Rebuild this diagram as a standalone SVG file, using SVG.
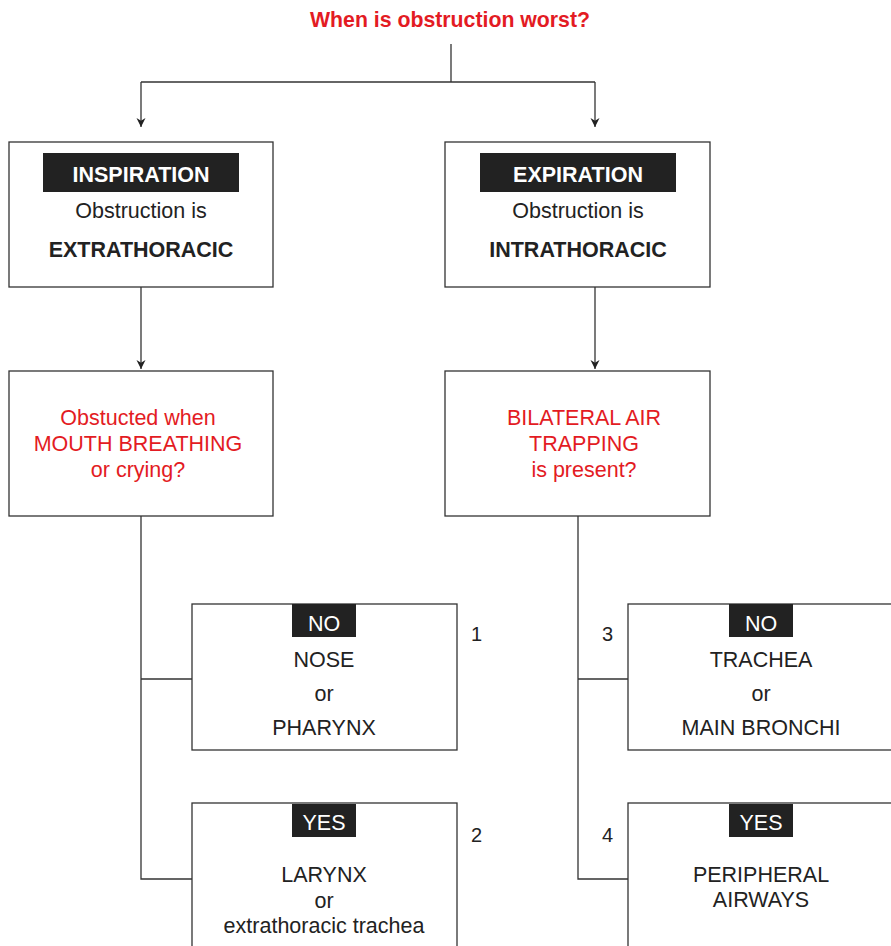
<svg xmlns="http://www.w3.org/2000/svg" width="891" height="946" viewBox="0 0 891 946">
<defs>
<marker id="arr" viewBox="0 0 10 20" refX="10" refY="10" markerWidth="10" markerHeight="18" markerUnits="userSpaceOnUse" orient="auto">
<path d="M0,5 L10,10 L0,15 L3,10 Z" fill="#222"/>
</marker>
<style>
.box{fill:#fff;stroke:#333;stroke-width:1.3}
.lbl{fill:#222}
.ln{fill:none;stroke:#333;stroke-width:1.3}
.t{font-family:"Liberation Sans",Arial,sans-serif;font-size:21.5px;fill:#222;text-anchor:middle}
.b{font-weight:bold}
.w{fill:#fff}
.r{fill:#e31b23}
.n{font-family:"Liberation Sans",Arial,sans-serif;font-size:20px;fill:#222}
</style>
</defs>
<text x="450" y="27" class="t b r" font-size="21" textLength="280" lengthAdjust="spacingAndGlyphs">When is obstruction worst?</text>
<g id="connectors">
<path class="ln" d="M451,44 V82"/>
<path class="ln" d="M141,82 H595"/>
<path class="ln" d="M141,82 V127" marker-end="url(#arr)"/>
<path class="ln" d="M595,82 V127" marker-end="url(#arr)"/>
<path class="ln" d="M141,287 V369" marker-end="url(#arr)"/>
<path class="ln" d="M595,287 V369" marker-end="url(#arr)"/>
<path class="ln" d="M141,516 V879 H192 M141,679 H192"/>
<path class="ln" d="M578,516 V879 H628 M578,679 H628"/>
</g>
<g id="inspiration">
<rect class="box" x="9" y="142" width="264" height="145"/>
<rect class="lbl" x="43" y="153" width="196" height="39"/>
<text x="141" y="182" class="t b w">INSPIRATION</text>
<text x="141" y="218" class="t">Obstruction is</text>
<text x="141" y="257" class="t b">EXTRATHORACIC</text>
</g>
<g id="expiration">
<rect class="box" x="445" y="142" width="265" height="145"/>
<rect class="lbl" x="480" y="153" width="196" height="39"/>
<text x="578" y="182" class="t b w">EXPIRATION</text>
<text x="578" y="218" class="t">Obstruction is</text>
<text x="578" y="257" class="t b">INTRATHORACIC</text>
</g>
<g id="mouth">
<rect class="box" x="9" y="371" width="264" height="145"/>
<text x="138" y="425" class="t r">Obstucted when</text>
<text x="138" y="451" class="t r">MOUTH BREATHING</text>
<text x="138" y="477" class="t r">or crying?</text>
</g>
<g id="trapping">
<rect class="box" x="445" y="371" width="265" height="145"/>
<text x="584" y="425" class="t r">BILATERAL AIR</text>
<text x="584" y="451" class="t r">TRAPPING</text>
<text x="584" y="477" class="t r">is present?</text>
</g>
<g id="nose">
<rect class="box" x="192" y="604" width="265" height="146"/>
<rect class="lbl" x="292" y="604" width="64" height="33"/>
<text x="324" y="631" class="t w">NO</text>
<text x="324" y="667" class="t">NOSE</text>
<text x="324" y="701" class="t">or</text>
<text x="324" y="735" class="t">PHARYNX</text>
<text x="471" y="641" class="n">1</text>
</g>
<g id="larynx">
<rect class="box" x="192" y="803" width="265" height="160"/>
<rect class="lbl" x="292" y="804" width="64" height="33"/>
<text x="324" y="830" class="t w">YES</text>
<text x="324" y="882" class="t">LARYNX</text>
<text x="324" y="908" class="t">or</text>
<text x="324" y="933" class="t">extrathoracic trachea</text>
<text x="471" y="842" class="n">2</text>
</g>
<g id="trachea">
<rect class="box" x="628" y="604" width="266" height="146"/>
<rect class="lbl" x="729" y="604" width="64" height="33"/>
<text x="761" y="631" class="t w">NO</text>
<text x="761" y="667" class="t">TRACHEA</text>
<text x="761" y="701" class="t">or</text>
<text x="761" y="735" class="t">MAIN BRONCHI</text>
<text x="602" y="641" class="n">3</text>
</g>
<g id="peripheral">
<rect class="box" x="628" y="803" width="266" height="160"/>
<rect class="lbl" x="729" y="804" width="64" height="33"/>
<text x="761" y="830" class="t w">YES</text>
<text x="761" y="882" class="t">PERIPHERAL</text>
<text x="761" y="907" class="t">AIRWAYS</text>
<text x="602" y="842" class="n">4</text>
</g>
</svg>
